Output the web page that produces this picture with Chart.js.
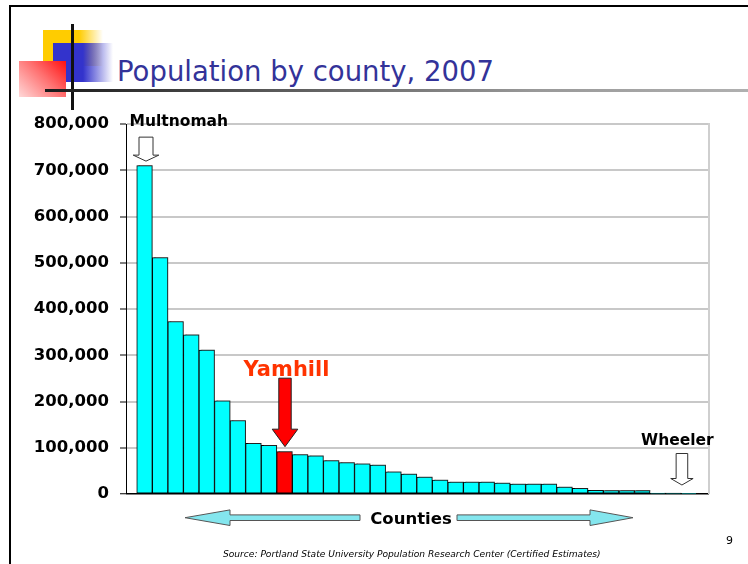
<!DOCTYPE html>
<html>
<head>
<meta charset="utf-8">
<script src="https://cdn.jsdelivr.net/npm/chart.js@4.4.1/dist/chart.umd.min.js"></script>
<style>
  html, body { margin:0; padding:0; background:#fff; width:748px; height:564px; overflow:hidden; }
  #frame { position:absolute; left:9px; top:5px; width:760px; height:557px; border-left:2px solid #000; border-top:2px solid #000; border-bottom:1px solid #8a8a8a; }
  .abs { position:absolute; }
  #yellow { left:43px; top:30px; width:60px; height:36px; background:linear-gradient(to right, #ffcc00 0%, #ffcc00 60%, rgba(255,204,0,0) 100%); }
  #blue { left:53px; top:43px; width:60px; height:39px; background:linear-gradient(to right, #3333cc 0%, #3333cc 50%, rgba(51,51,204,0) 100%); }
  #red { left:19px; top:61px; width:47px; height:36px; background:linear-gradient(225deg, #ff1010 0%, #ff7070 45%, #ffd8d8 100%); }
  #vline { left:71px; top:24px; width:3px; height:86px; background:#111; }
  #hline { left:45px; top:89px; width:703px; height:3px; background:linear-gradient(to right, #1a1a1a 0%, #555 30%, #999 70%, #b0b0b0 100%); }
  #title { left:117px; top:58px; font-family:"DejaVu Sans", sans-serif; font-size:27.5px; line-height:1; color:#333399; white-space:nowrap; }
  #source { left:223px; top:550px; font-family:"DejaVu Sans", sans-serif; font-style:italic; font-size:9.1px; line-height:1; color:#000; white-space:nowrap; }
  #page { left:726px; top:535px; font-family:"DejaVu Sans", sans-serif; font-size:11px; line-height:1; color:#000; }
  canvas { position:absolute; left:0; top:0; }
</style>
</head>
<body>
<div id="frame"></div>
<div class="abs" id="yellow"></div>
<div class="abs" id="blue"></div>
<div class="abs" id="red"></div>
<div class="abs" id="vline"></div>
<div class="abs" id="hline"></div>
<div class="abs" id="title">Population by county, 2007</div>
<canvas id="c" width="748" height="564"></canvas>
<div class="abs" id="source">Source: Portland State University Population Research Center (Certified Estimates)</div>
<div class="abs" id="page">9</div>
<script>
// ---- Data ----
const counties = ['Multnomah','Washington','Clackamas','Lane','Marion','Jackson','Deschutes','Linn','Douglas','Yamhill',
  'Benton','Josephine','Umatilla','Polk','Klamath','Coos','Columbia','Lincoln','Clatsop','Malheur',
  'Tillamook','Union','Crook','Wasco','Jefferson','Hood River','Curry','Baker','Morrow','Lake',
  'Harney','Grant','Wallowa','Gilliam','Sherman','Wheeler'];
const population = [710000, 511000, 373000, 344000, 311000, 201600, 159000, 109500, 105300, 91500,
  85000, 82500, 72000, 67700, 65500, 62700, 48200, 43200, 36800, 30300,
  25900, 25800, 25600, 23800, 21600, 21500, 21400, 15100, 12300, 7800,
  7600, 7500, 7300, 1900, 1800, 1500];
const yTickValues = [0, 100000, 200000, 300000, 400000, 500000, 600000, 700000, 800000];
const highlighted = 'Yamhill';
const firstLabel = 'Multnomah';
const lastLabel = 'Wheeler';
const axisTitle = 'Counties';

const BOLD = '"DejaVu Sans", sans-serif';

function downArrow(ctx, cx, yTop, yHead, yTip, shaftHalf, headHalf, fill, stroke, lw) {
  ctx.beginPath();
  ctx.moveTo(cx - shaftHalf, yTop);
  ctx.lineTo(cx + shaftHalf, yTop);
  ctx.lineTo(cx + shaftHalf, yHead);
  ctx.lineTo(cx + headHalf, yHead);
  ctx.lineTo(cx, yTip);
  ctx.lineTo(cx - headHalf, yHead);
  ctx.lineTo(cx - shaftHalf, yHead);
  ctx.closePath();
  ctx.fillStyle = fill; ctx.fill();
  ctx.lineWidth = lw; ctx.strokeStyle = stroke; ctx.stroke();
}

function sideArrow(ctx, xTip, xHead, xEnd, cy, shaftHalf, headHalf, fill, stroke) {
  ctx.beginPath();
  ctx.moveTo(xTip, cy);
  ctx.lineTo(xHead, cy - headHalf);
  ctx.lineTo(xHead, cy - shaftHalf);
  ctx.lineTo(xEnd, cy - shaftHalf);
  ctx.lineTo(xEnd, cy + shaftHalf);
  ctx.lineTo(xHead, cy + shaftHalf);
  ctx.lineTo(xHead, cy + headHalf);
  ctx.closePath();
  ctx.fillStyle = fill; ctx.fill();
  ctx.lineWidth = 1; ctx.strokeStyle = stroke; ctx.stroke();
}

const shadowPlugin = {
  id: 'barShadow',
  beforeDatasetsDraw(chart) {
    const ctx = chart.ctx;
    ctx.save();
    ctx.shadowColor = 'rgba(60,60,60,0.55)';
    ctx.shadowOffsetX = 2;
    ctx.shadowOffsetY = -2;
    ctx.shadowBlur = 0;
  },
  afterDatasetsDraw(chart) { chart.ctx.restore(); }
};

const annotPlugin = {
  id: 'annotations',
  afterDraw(chart) {
    const ctx = chart.ctx;
    const ca = chart.chartArea;
    const x = chart.scales.x, y = chart.scales.y;
    ctx.save();
    // plot area right border
    ctx.strokeStyle = '#cfcfcf'; ctx.lineWidth = 2;
    ctx.beginPath(); ctx.moveTo(ca.right, ca.top - 1); ctx.lineTo(ca.right, ca.bottom); ctx.stroke();

    // first (largest) county
    const i0 = counties.indexOf(firstLabel);
    const cx0 = x.getPixelForValue(i0) + 1.5;
    const top0 = y.getPixelForValue(population[i0]);
    ctx.font = 'bold 15.5px ' + BOLD;
    ctx.fillStyle = '#000'; ctx.textAlign = 'left'; ctx.textBaseline = 'alphabetic';
    ctx.fillText(firstLabel, cx0 - 16.5, top0 - 39.5);
    downArrow(ctx, cx0, top0 - 28.5, top0 - 10.5, top0 - 4.5, 7, 12.8, '#fff', '#333', 1);

    // highlighted county
    const ih = counties.indexOf(highlighted);
    const cxh = x.getPixelForValue(ih);
    const toph = y.getPixelForValue(population[ih]);
    ctx.font = 'bold 21px ' + BOLD;
    ctx.fillStyle = '#ff3300'; ctx.textAlign = 'center';
    ctx.fillText(highlighted, cxh + 2, toph - 76);
    downArrow(ctx, cxh + 0.5, toph - 73.5, toph - 22.5, toph - 5, 6.2, 12.8, '#ff0000', '#222', 1);

    // last (smallest) county
    const il = counties.indexOf(lastLabel);
    const cxl = x.getPixelForValue(il) - 7;
    const base = y.getPixelForValue(0);
    ctx.font = 'bold 15.5px ' + BOLD;
    ctx.fillStyle = '#000'; ctx.textAlign = 'center';
    ctx.fillText(lastLabel, cxl - 4.5, base - 49.5);
    downArrow(ctx, cxl, base - 40.5, base - 15.5, base - 9, 5.8, 11.2, '#fff', '#333', 1);

    // axis caption with double arrow
    const cy = ca.bottom + 23.7;
    const fillC = '#84e6ee', strokeC = '#555';
    sideArrow(ctx, ca.left + 59, ca.left + 104, ca.left + 234, cy, 2.8, 7.8, fillC, strokeC);
    sideArrow(ctx, ca.left + 507, ca.left + 464, ca.left + 331, cy, 2.8, 7.8, fillC, strokeC);
    ctx.font = 'bold 16.5px ' + BOLD;
    ctx.fillStyle = '#000'; ctx.textAlign = 'center';
    ctx.fillText(axisTitle, ca.left + 285, ca.bottom + 29.5);
    ctx.restore();
  }
};

new Chart(document.getElementById('c'), {
  type: 'bar',
  data: {
    datasets: [{
      label: 'Population',
      data: population.map((v, i) => ({ x: i, y: v })),
      backgroundColor: counties.map(c => c === highlighted ? '#ff0000' : '#00ffff'),
      borderColor: '#000',
      borderWidth: 1,
      borderSkipped: false,
      barPercentage: 1,
      categoryPercentage: 1
    }]
  },
  options: {
    responsive: false,
    animation: false,
    devicePixelRatio: 1,
    layout: { padding: { left: 0, top: 124, right: 39, bottom: 70 } },
    plugins: { legend: { display: false }, tooltip: { enabled: false } },
    scales: {
      x: {
        type: 'linear',
        display: false,
        offset: false,
        bounds: 'data',
        min: -1.19,
        max: 36.29,
        grid: { offset: false }
      },
      y: {
        min: 0,
        max: 800000,
        afterFit(scale) { scale.width = 126; },
        afterBuildTicks(scale) { scale.ticks = yTickValues.map(v => ({ value: v })); },
        border: { display: true, color: '#000', width: 1 },
        grid: {
          color: c => (c.tick && c.tick.value === 0) ? '#000' : '#c8c8c8',
          lineWidth: c => (c.tick && c.tick.value === 0) ? 1.5 : 2,
          tickColor: '#000',
          tickWidth: 1,
          tickLength: 6
        },
        ticks: {
          padding: 11,
          color: '#000',
          font: { family: BOLD, weight: 'bold', size: 16.5 },
          callback: v => v.toLocaleString('en-US')
        }
      }
    }
  },
  plugins: [shadowPlugin, annotPlugin]
});
</script>
</body>
</html>
